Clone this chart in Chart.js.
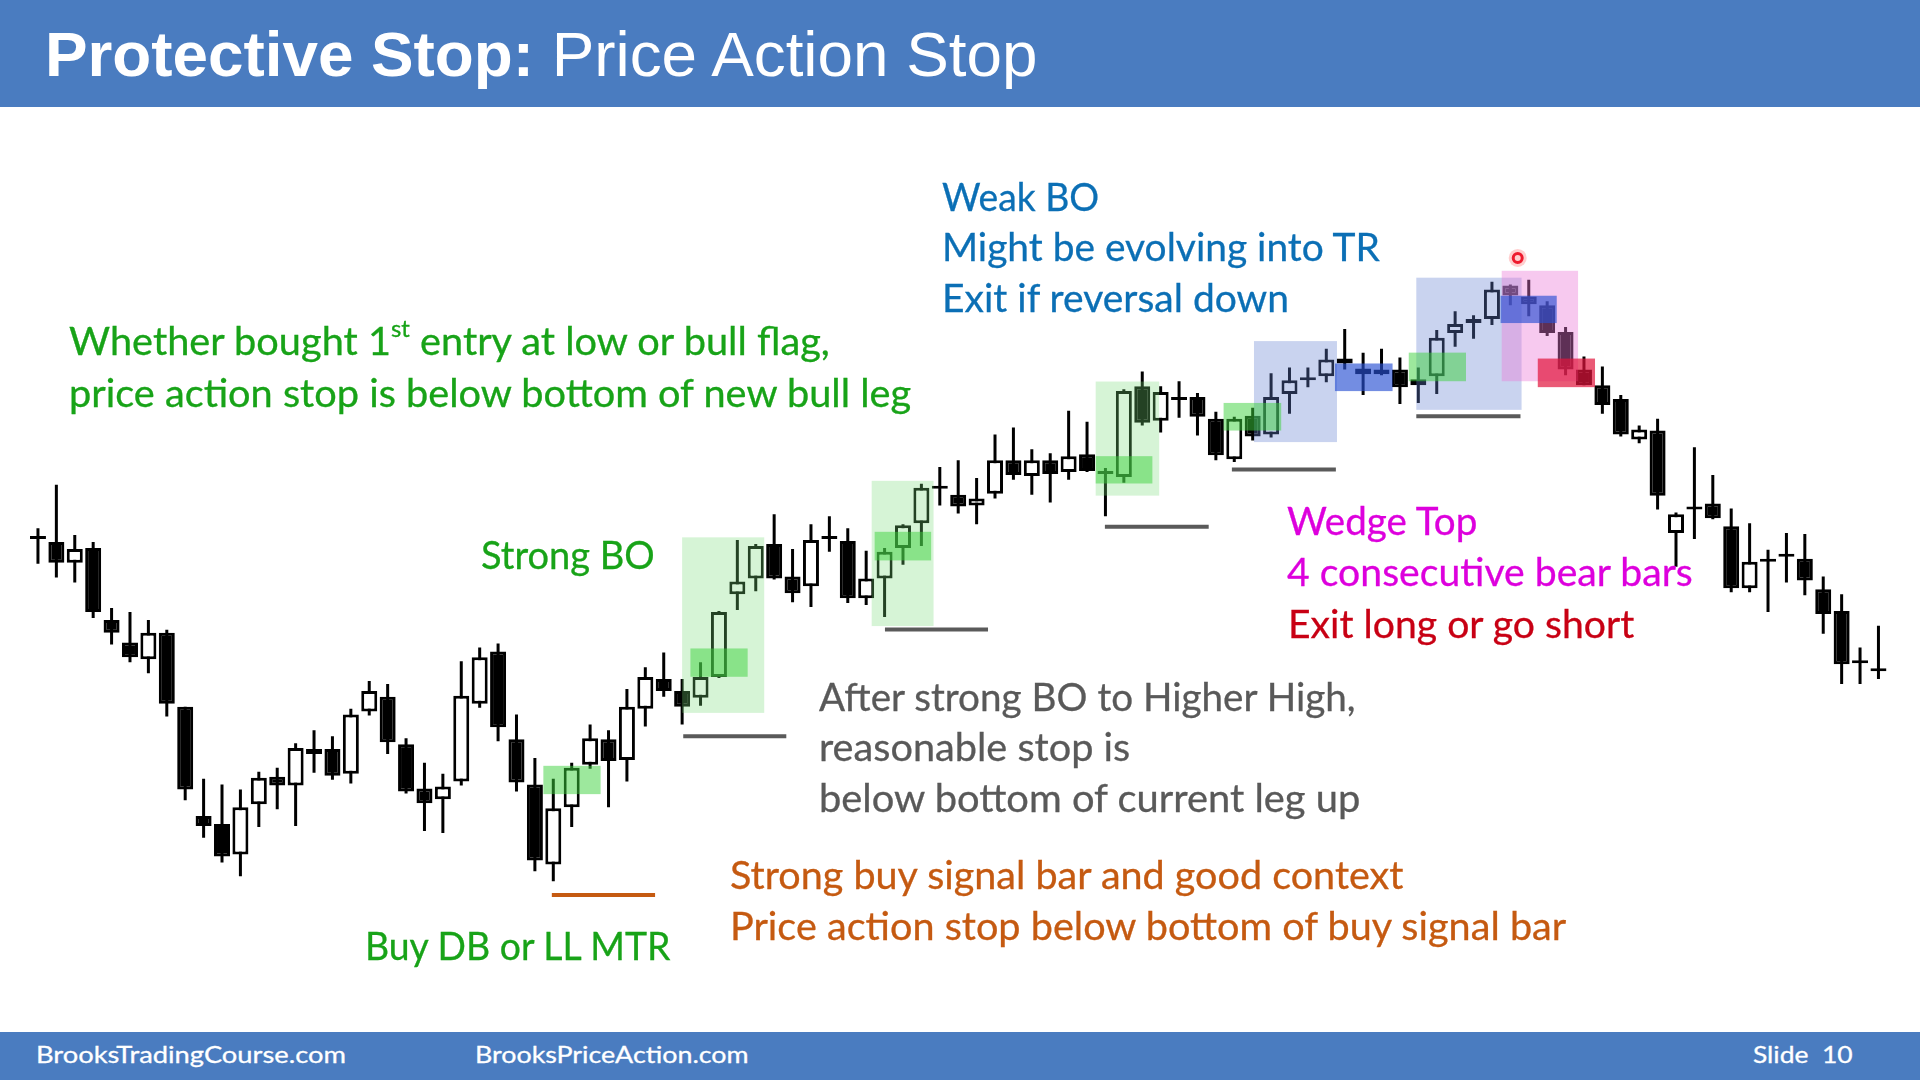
<!DOCTYPE html>
<html>
<head>
<meta charset="utf-8">
<title>Protective Stop: Price Action Stop</title>
<script src="https://cdn.jsdelivr.net/npm/chart.js@4.4.0/dist/chart.umd.min.js"></script>
<style>
  html, body { margin: 0; padding: 0; background: #fff; }
  #slide { position: relative; width: 1920px; height: 1080px; overflow: hidden; background: #fff; }
  #myChart { position: absolute; left: 0; top: 0; }
  .band { position: absolute; left: 0; width: 1920px; background: #4a7cc0; }
  .txt { position: absolute; white-space: nowrap; font-family: Lato, "Open Sans", sans-serif; line-height: 1; transform-origin: 0 0; -webkit-text-stroke: 0.3px currentColor; }
  .txt sup { font-size: 0.6em; vertical-align: 0; position: relative; top: -0.78em; }
  .bl { display: inline-block; width: 0; height: 0; }
</style>
</head>
<body>
<div id="slide">
  <canvas id="myChart" width="1920" height="1080"></canvas>
  <div class="band" style="top:0;height:107px"></div>
  <div class="band" style="top:1032px;height:48px"></div>
</div>
<script>
// bars 0..100, prices
const opens = [
  54.1, 53.8, 51.7, 53.2, 45.9, 43.6, 41.9, 44.6, 37.1, 26.0,
  25.2, 22.1, 27.2, 30.0, 29.1, 32.3, 32.8, 30.3, 36.6, 38.1,
  33.3, 28.8, 27.7, 29.5, 37.4, 42.7, 33.8, 29.2, 21.1, 26.9,
  31.2, 33.8, 31.7, 36.9, 39.9, 38.7, 38.0, 40.1, 48.5, 50.1,
  53.6, 50.3, 49.3, 54.1, 53.9, 48.1, 50.1, 53.2, 55.7, 59.2,
  58.6, 57.5, 58.7, 62.1, 60.5, 62.1, 60.9, 62.7, 60.7, 60.4,
  69.6, 66.1, 68.2, 68.5, 66.3, 62.2, 66.6, 64.7, 68.8, 70.2,
  70.6, 72.4, 71.4, 71.3, 71.3, 69.7, 70.6, 75.0, 76.4, 76.4,
  79.8, 78.7, 77.8, 75.1, 71.3, 69.7, 68.3, 64.2, 65.1, 54.7,
  57.1, 57.7, 55.4, 49.1, 51.8, 52.3, 52.1, 49.0, 46.8, 41.5,
  40.7
];
const highs = [
  55.2, 59.6, 54.5, 53.8, 47.1, 46.7, 45.9, 44.9, 37.1, 29.8,
  29.2, 28.7, 30.5, 30.9, 33.4, 34.7, 34.1, 36.9, 39.7, 39.4,
  33.9, 31.4, 30.3, 41.7, 43.1, 43.5, 36.3, 31.9, 29.8, 31.4,
  35.3, 34.7, 38.9, 41.1, 42.6, 39.9, 41.6, 46.8, 54.0, 53.6,
  56.6, 53.1, 55.6, 56.4, 55.2, 52.9, 53.2, 55.6, 59.7, 61.4,
  62.1, 60.3, 64.7, 65.4, 63.2, 62.8, 67.1, 66.0, 61.3, 69.3,
  71.1, 69.6, 70.1, 68.9, 67.0, 66.5, 67.4, 70.9, 71.5, 71.5,
  73.4, 75.4, 73.0, 73.4, 72.5, 71.5, 75.3, 77.2, 76.8, 80.2,
  79.9, 80.4, 78.2, 75.6, 72.6, 71.6, 68.7, 65.6, 66.3, 56.8,
  63.4, 60.6, 57.2, 55.7, 53.0, 54.7, 54.6, 50.3, 48.5, 43.1,
  45.3
];
const lows = [
  51.6, 50.2, 49.7, 46.1, 43.4, 41.6, 40.5, 36.1, 27.6, 23.8,
  21.3, 19.9, 24.9, 26.7, 25.0, 30.4, 29.7, 29.3, 36.2, 32.3,
  28.3, 24.5, 24.3, 29.1, 37.0, 33.6, 28.5, 20.4, 19.4, 24.9,
  30.8, 26.9, 29.5, 35.1, 38.1, 35.3, 37.2, 40.0, 46.9, 48.8,
  50.0, 47.7, 47.2, 52.8, 47.6, 47.4, 46.2, 51.5, 53.4, 57.5,
  56.7, 55.6, 58.2, 60.1, 58.6, 57.8, 60.1, 60.9, 56.4, 59.8,
  65.6, 64.9, 66.4, 64.6, 62.1, 61.9, 64.1, 64.4, 66.8, 69.5,
  70.0, 71.3, 68.7, 70.7, 67.8, 67.9, 68.8, 73.6, 74.4, 75.8,
  77.8, 76.7, 74.7, 70.7, 69.7, 66.8, 64.5, 63.8, 57.1, 51.3,
  54.1, 56.1, 48.7, 48.7, 46.7, 49.7, 48.4, 44.5, 39.4, 39.4,
  39.9
];
const closes = [
  54.1, 51.7, 53.1, 46.7, 44.6, 42.1, 44.6, 37.4, 28.7, 25.0,
  21.9, 26.9, 29.9, 29.1, 32.9, 32.8, 30.1, 36.3, 38.7, 33.5,
  28.5, 27.3, 29.0, 38.2, 42.1, 35.0, 29.4, 21.5, 26.8, 30.9,
  33.9, 31.6, 37.1, 40.1, 38.7, 37.1, 40.1, 46.7, 49.8, 53.4,
  50.1, 48.6, 54.0, 54.1, 48.1, 50.1, 52.8, 55.5, 59.3, 59.2,
  57.4, 58.2, 62.1, 60.6, 62.1, 60.7, 62.5, 61.0, 60.7, 69.1,
  65.9, 69.0, 68.2, 66.5, 62.6, 66.3, 64.5, 68.5, 70.2, 70.2,
  72.3, 71.9, 70.8, 70.8, 69.5, 70.3, 74.5, 75.9, 76.0, 79.4,
  78.8, 77.9, 75.0, 71.3, 69.7, 67.7, 64.7, 65.2, 58.5, 56.6,
  57.1, 56.2, 49.1, 51.8, 51.8, 52.3, 49.9, 46.5, 41.4, 41.5,
  40.7
];

// protective stop levels (bar range and price)
const stopStart = [27.92, 35.06, 46.02, 57.97, 64.87, 74.89];
const stopEnd = [33.53, 40.66, 51.62, 63.61, 70.52, 80.55];
const stopPrice = [18.0, 34.1, 44.93, 55.34, 61.15, 66.55];

// highlighted zones: bar range and price range
const zones = [
  { kind: "lightGreen", x0: 35.0, x1: 39.46, y0: 36.47, y1: 54.27 },
  { kind: "lightGreen", x0: 45.3, x1: 48.66, y0: 45.27, y1: 60.0 },
  { kind: "lightGreen", x0: 57.47, x1: 60.92, y0: 58.5, y1: 70.07 },
  { kind: "lightBlue", x0: 66.07, x1: 70.58, y0: 63.93, y1: 74.17 },
  { kind: "lightBlue", x0: 74.89, x1: 80.61, y0: 67.2, y1: 80.6 },
  { kind: "pink", x0: 79.53, x1: 83.68, y0: 70.1, y1: 81.3 },
  { kind: "green", x0: 27.46, x1: 30.57, y0: 28.23, y1: 31.1 },
  { kind: "green", x0: 35.45, x1: 38.56, y0: 40.13, y1: 43.0 },
  { kind: "green", x0: 45.46, x1: 48.53, y0: 51.93, y1: 54.83 },
  { kind: "green", x0: 57.47, x1: 60.55, y0: 59.73, y1: 62.5 },
  { kind: "green", x0: 64.42, x1: 67.55, y0: 65.1, y1: 67.9 },
  { kind: "green", x0: 74.48, x1: 77.59, y0: 70.1, y1: 73.0 },
  { kind: "blue", x0: 70.47, x1: 73.6, y0: 69.1, y1: 71.9 },
  { kind: "blue", x0: 79.47, x1: 82.52, y0: 76.0, y1: 78.77 },
  { kind: "red", x0: 81.49, x1: 84.6, y0: 69.5, y1: 72.4 }
];
const pointer = { x: 80.4, y: 82.6 };

const zoneColors = {
  lightGreen: "rgba(120,220,120,0.3)",
  green: "rgba(60,210,60,0.5)",
  lightBlue: "rgba(100,130,210,0.35)",
  blue: "rgba(40,80,210,0.65)",
  pink: "rgba(235,120,215,0.4)",
  red: "rgba(225,20,60,0.7)"
};

const GREEN = "#18a318", BLUE = "#0b6fb5", GRAY = "#595959", ORANGE = "#c55a11", MAG = "#dd00dd", RED = "#c80014";

const notes = [
  { html: "<b>Protective Stop:</b> Price Action Stop", x: 45, base: 76, w: 992, color: "#fff", size: 63, font: '"Liberation Sans", Arial, sans-serif' },
  { html: "Whether bought 1<sup>st</sup> entry at low or bull flag,", x: 69, base: 355, w: 761, color: GREEN, size: 38 },
  { html: "price action stop is below bottom of new bull leg", x: 69, base: 406.5, w: 842, color: GREEN, size: 38 },
  { html: "Strong BO", x: 481, base: 569, w: 174, color: GREEN, size: 38 },
  { html: "Buy DB or LL MTR", x: 365, base: 960, w: 305, color: GREEN, size: 38 },
  { html: "Weak BO", x: 942, base: 211, w: 157, color: BLUE, size: 38 },
  { html: "Might be evolving into TR", x: 942, base: 261, w: 438, color: BLUE, size: 38 },
  { html: "Exit if reversal down", x: 942, base: 312, w: 347, color: BLUE, size: 38 },
  { html: "Wedge Top", x: 1287, base: 535, w: 190, color: MAG, size: 38 },
  { html: "4 consecutive bear bars", x: 1287, base: 586, w: 406, color: MAG, size: 38 },
  { html: "Exit long or go short", x: 1288, base: 638, w: 346, color: RED, size: 38 },
  { html: "After strong BO to Higher High,", x: 818.5, base: 710.5, w: 537, color: GRAY, size: 38 },
  { html: "reasonable stop is", x: 818.5, base: 761, w: 311, color: GRAY, size: 38 },
  { html: "below bottom of current leg up", x: 818.5, base: 811.5, w: 541, color: GRAY, size: 38 },
  { html: "Strong buy signal bar and good context", x: 730, base: 889, w: 673, color: ORANGE, size: 38 },
  { html: "Price action stop below bottom of buy signal bar", x: 730, base: 940, w: 836, color: ORANGE, size: 38 },
  { html: "BrooksTradingCourse.com", x: 35.5, base: 1063, w: 310, color: "#fff", size: 23 },
  { html: "BrooksPriceAction.com", x: 474.6, base: 1063, w: 274, color: "#fff", size: 23 },
  { html: "Slide&nbsp;&nbsp;10", x: 1753, base: 1063, w: 100, color: "#fff", size: 23 }
];

const ctx = document.getElementById("myChart");
const slide = document.getElementById("slide");

const wickData = highs.map((h, i) => ({ x: i, y: [lows[i], h] }));
const bodyData = opens.map((o, i) => ({ x: i, y: [o, closes[i]] }));
const bodyColors = opens.map((o, i) => (closes[i] > o ? "#fff" : "#000"));

const stopSets = stopPrice.map((p, i) => ({
  type: "line",
  data: [{ x: stopStart[i], y: p }, { x: stopEnd[i], y: p }],
  borderColor: i === 0 ? ORANGE : "#5a5a5a",
  borderWidth: 4,
  pointRadius: 0,
  order: 3
}));

const zonePlugin = {
  id: "zones",
  afterDatasetsDraw(chart) {
    const c = chart.ctx;
    const x = chart.scales.x;
    const y = chart.scales.y;
    c.save();
    zones.forEach((z) => {
      const l = x.getPixelForValue(z.x0);
      const r = x.getPixelForValue(z.x1);
      const t = y.getPixelForValue(z.y1);
      const b = y.getPixelForValue(z.y0);
      c.fillStyle = zoneColors[z.kind];
      c.fillRect(l, t, r - l, b - t);
    });
    // glow round the laser pointer dot
    const px = x.getPixelForValue(pointer.x);
    const py = y.getPixelForValue(pointer.y);
    c.fillStyle = "rgba(255,60,60,0.25)";
    c.beginPath();
    c.arc(px, py, 9, 0, Math.PI * 2);
    c.fill();
    c.restore();
  }
};

const chart = new Chart(ctx, {
  type: "bar",
  data: {
    datasets: [
      {
        type: "line",
        data: [pointer],
        showLine: false,
        pointRadius: 4.5,
        pointBorderWidth: 3,
        pointBorderColor: "#e8102a",
        pointBackgroundColor: "#fff",
        order: 0
      },
      {
        label: "body",
        data: bodyData,
        backgroundColor: bodyColors,
        borderColor: "#000",
        borderWidth: 3,
        borderSkipped: false,
        barThickness: 16,
        minBarLength: 3,
        inflateAmount: 0,
        grouped: false,
        order: 1
      },
      {
        label: "wick",
        data: wickData,
        backgroundColor: "#000",
        borderWidth: 0,
        barThickness: 3,
        inflateAmount: 0,
        grouped: false,
        order: 2
      },
      ...stopSets
    ]
  },
  options: {
    responsive: false,
    animation: false,
    devicePixelRatio: 1,
    layout: { padding: 0 },
    plugins: { legend: { display: false }, tooltip: { enabled: false } },
    scales: {
      x: { type: "linear", min: -1.655, max: 101.85, display: false, offset: false },
      y: { type: "linear", min: 0, max: 108, display: false }
    }
  },
  plugins: [zonePlugin]
});

function placeNotes() {
  notes.forEach((n) => {
    const d = document.createElement("div");
    d.className = "txt";
    d.style.color = n.color;
    d.style.fontSize = n.size + "px";
    if (n.font) {
      d.style.fontFamily = n.font;
      d.style.webkitTextStroke = "0";
    }
    d.innerHTML = n.html + '<span class="bl"></span>';
    slide.appendChild(d);
    const base = d.querySelector(".bl").offsetTop;
    const k = n.w / d.offsetWidth;
    d.style.left = n.x + "px";
    d.style.top = n.base - base + "px";
    d.style.transform = "scaleX(" + k + ")";
  });
}

if (document.fonts && document.fonts.ready) {
  document.fonts.ready.then(placeNotes);
} else {
  placeNotes();
}
</script>
</body>
</html>
